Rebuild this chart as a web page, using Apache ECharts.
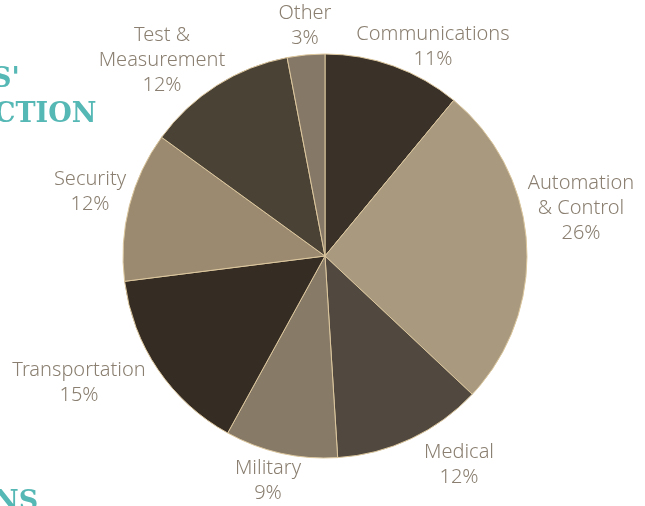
<!DOCTYPE html>
<html>
<head>
<meta charset="utf-8">
<script src="https://cdn.jsdelivr.net/npm/echarts@6/dist/echarts.min.js"></script>
<style>
  html, body { margin: 0; padding: 0; background: #fff; }
  #chart { width: 645px; height: 506px; }
</style>
</head>
<body>
<div id="chart"></div>
<script>
const categories = ["Communications", "Automation\n& Control", "Medical", "Military", "Transportation", "Security", "Test &\nMeasurement", "Other"];
const shares = [11, 26, 12, 9, 15, 12, 12, 3];

const sliceColors = ["#3a3129", "#a8997f", "#51493f", "#877a67", "#352c23", "#9b8a6f", "#4b4236", "#867866"];
// where each label sits (centre of text block)
const labelAt = [[433, 47], [581, 208], [459, 465], [268, 481], [79, 383], [90, 192], [162, 60], [305, 26]];

const chart = echarts.init(document.getElementById("chart"), null, { renderer: "canvas" });

chart.setOption({
  animation: false,
  backgroundColor: "#ffffff",
  graphic: [
    { type: "text", left: -8, top: 66, style: { text: "S'", fill: "#55b8b5", font: "bold 27px 'DejaVu Serif'" } },
    { type: "text", left: -6, top: 101, style: { text: "CTION", fill: "#55b8b5", font: "bold 27px 'DejaVu Serif'" } },
    { type: "text", left: -6, top: 489, style: { text: "NS", fill: "#55b8b5", font: "bold 27px 'DejaVu Serif'" } }
  ],
  series: [
    {
      type: "pie",
      center: [325, 256],
      radius: [0, 202],
      startAngle: 90,
      clockwise: true,
      avoidLabelOverlap: false,
      data: categories.map((name, i) => ({
        name: name,
        value: shares[i],
        itemStyle: { color: sliceColors[i] }
      })),
      itemStyle: { borderColor: "#dcc79e", borderWidth: 1 },
      label: {
        show: true,
        position: "outside",
        formatter: (p) => p.name + "\n" + p.value + "%",
        color: "#8a7f70",
        fontFamily: "Noto Sans",
        fontWeight: 300,
        fontSize: 20,
        lineHeight: 25,
        align: "center"
      },
      labelLine: { show: false },
      labelLayout: (p) => ({
        x: labelAt[p.dataIndex][0],
        y: labelAt[p.dataIndex][1],
        align: "center",
        verticalAlign: "middle"
      }),
      emphasis: { disabled: true }
    }
  ]
});
</script>
</body>
</html>
